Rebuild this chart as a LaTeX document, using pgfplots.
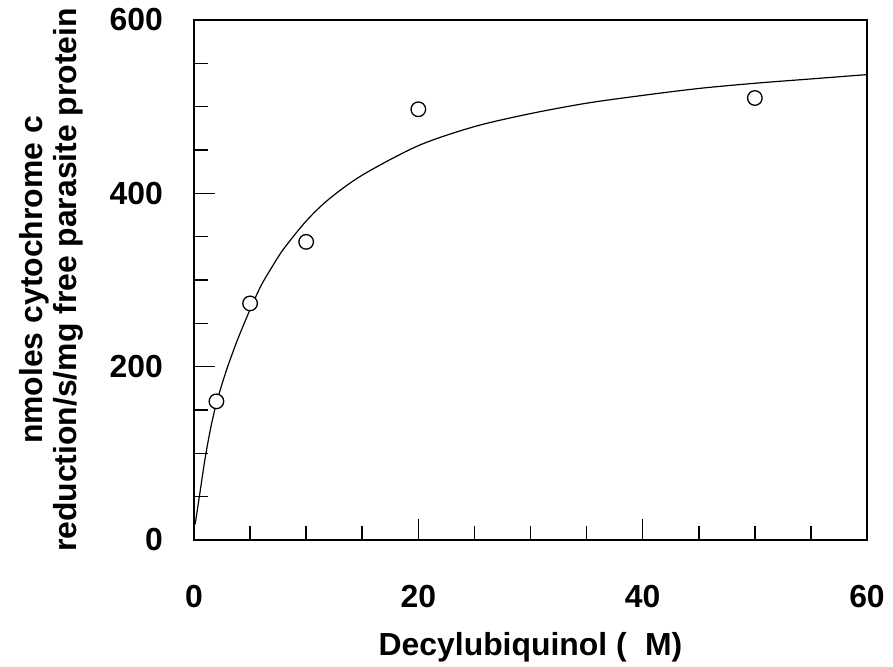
\documentclass[border=0pt]{standalone}
\usepackage{fontspec}
\setmainfont{Liberation Sans}
\usepackage{pgfplots}
\pgfplotsset{compat=1.18}

\newcommand{\lblfont}{\fontsize{32}{34}\selectfont\bfseries}

\begin{document}
\begin{tikzpicture}
\begin{axis}[
  scale only axis,
  width=673bp, height=520bp,
  xmin=0, xmax=60, ymin=0, ymax=600,
  xtick={0,20,40,60}, ytick={0,200,400,600},
  minor x tick num=3, minor y tick num=3,
  tick align=inside, tick pos=left,
  major tick length=21bp, minor tick length=14bp,
  axis line style={line width=1.5bp, black},
  tick style={line width=1.5bp, black},
  /pgf/number format/assume math mode=true,
  ticklabel style={font=\lblfont, inner sep=0pt},
  xticklabel style={anchor=north, yshift=-45bp},
  yticklabel style={anchor=east, xshift=-31bp},
  xlabel={Decylubiquinol (\hspace{0.3em}\ M)},
  xlabel style={font=\lblfont, inner sep=0pt, anchor=north,
                at={(rel axis cs:0.5,-0.177)}},
  ylabel={nmoles cytochrome c\\reduction/s/mg free parasite protein},
  ylabel style={font=\lblfont, inner sep=0pt, align=center, rotate=0,
                anchor=south, at={(rel axis cs:-0.165,0.5)}},
]
% fitted saturation curve
\addplot[black, line width=1.2bp, smooth] coordinates {
  (0.1,18) (0.5,52) (1,95) (1.5,130) (2,158) (2.5,180) (3,200) (3.5,218)
  (4,235) (5,266) (6,294) (7,316) (8,336) (10,368) (12,393) (15,421)
  (20,455) (25,477) (30,492) (35,504) (40,513) (45,521) (50,527)
  (55,532) (60,537)
};
% measured rates
\addplot[only marks, mark=*, mark size=7.3bp,
         mark options={draw=black, fill=white, line width=1.3bp}] coordinates {
  (2,160) (5,273) (10,344) (20,497) (50,510)
};
\draw[line width=2bp, black] (rel axis cs:0,1) -- (rel axis cs:0,0) -- (rel axis cs:1,0);
\coordinate (O) at (rel axis cs:0,0);
\end{axis}
\pgfresetboundingbox
\path (O) ++(-194bp,-127bp) rectangle ++(893bp,667bp);
\end{tikzpicture}
\end{document}
